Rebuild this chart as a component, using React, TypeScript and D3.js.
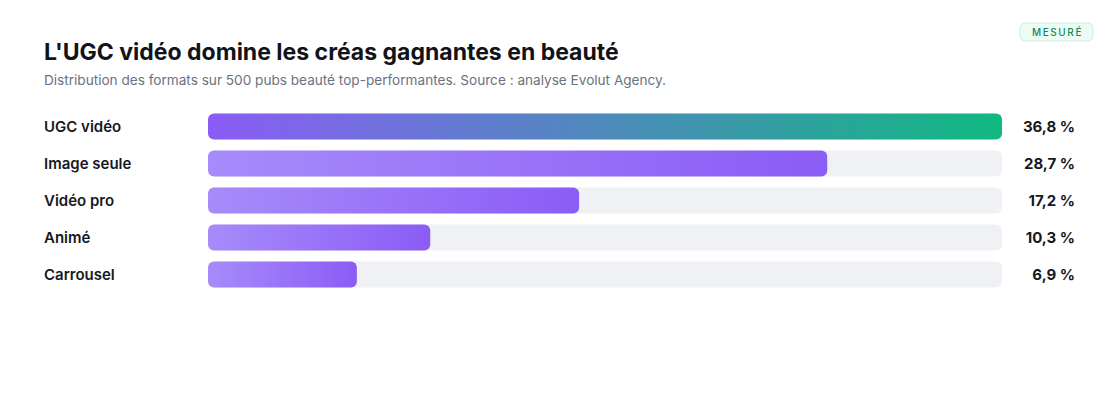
import React, { useEffect, useRef } from "react";
import * as d3 from "d3";

const categories = ["UGC vidéo", "Image seule", "Vidéo pro", "Animé", "Carrousel"];
const shares = [36.8, 28.7, 17.2, 10.3, 6.9];
const valueLabels = ["36,8 %", "28,7 %", "17,2 %", "10,3 %", "6,9 %"];

const title = "L'UGC vidéo domine les créas gagnantes en beauté";
const subtitle =
  "Distribution des formats sur 500 pubs beauté top-performantes. Source : analyse Evolut Agency.";

const App: React.FC = () => {
  const svgRef = useRef<SVGSVGElement | null>(null);

  useEffect(() => {
    const width = 1120;
    const height = 420;
    const font = "Inter, 'Noto Sans', sans-serif";
    const barLeft = 208;
    const barRight = 1002;

    const svg = d3.select(svgRef.current);
    svg.selectAll("*").remove();

    // Gradients
    const defs = svg.append("defs");
    const top = defs
      .append("linearGradient")
      .attr("id", "grad-top")
      .attr("x1", "0%")
      .attr("x2", "100%")
      .attr("y1", "0%")
      .attr("y2", "0%");
    top.append("stop").attr("offset", "0%").attr("stop-color", "#8b5cf6");
    top.append("stop").attr("offset", "100%").attr("stop-color", "#10b981");

    const rest = defs
      .append("linearGradient")
      .attr("id", "grad-rest")
      .attr("x1", "0%")
      .attr("x2", "100%")
      .attr("y1", "0%")
      .attr("y2", "0%");
    rest.append("stop").attr("offset", "0%").attr("stop-color", "#a78bfa");
    rest.append("stop").attr("offset", "100%").attr("stop-color", "#8b5cf6");

    // Header
    svg
      .append("text")
      .attr("x", 44)
      .attr("y", 60)
      .attr("font-family", font)
      .attr("font-size", 23)
      .attr("font-weight", 700)
      .attr("fill", "#111318")
      .text(title);

    svg
      .append("text")
      .attr("x", 44)
      .attr("y", 85)
      .attr("font-family", font)
      .attr("font-size", 13.6)
      .attr("fill", "#6b7280")
      .text(subtitle);

    // Badge
    const badge = svg.append("g").attr("transform", "translate(1020,23)");
    badge
      .append("rect")
      .attr("width", 73)
      .attr("height", 18)
      .attr("rx", 5)
      .attr("fill", "#eefbf5")
      .attr("stroke", "#c9efdd");
    badge
      .append("text")
      .attr("x", 37.5)
      .attr("y", 13)
      .attr("text-anchor", "middle")
      .attr("font-family", font)
      .attr("font-size", 10)
      .attr("font-weight", 500)
      .attr("letter-spacing", "1.6")
      .attr("fill", "#15875c")
      .text("MESURÉ");

    // Scales
    const yScale = d3
      .scaleBand()
      .domain(categories)
      .range([108, 293])
      .paddingInner(0.297)
      .paddingOuter(0.15);

    const xScale = d3
      .scaleLinear()
      .domain([0, d3.max(shares)!])
      .range([barLeft, barRight]);

    const rows = svg
      .selectAll("g.row")
      .data(categories)
      .enter()
      .append("g")
      .attr("class", "row");

    rows
      .append("rect")
      .attr("x", barLeft)
      .attr("y", (d) => yScale(d)!)
      .attr("width", barRight - barLeft)
      .attr("height", yScale.bandwidth())
      .attr("rx", 6)
      .attr("fill", "#f0f1f5");

    rows
      .append("rect")
      .attr("x", barLeft)
      .attr("y", (d) => yScale(d)!)
      .attr("width", (_, i) => xScale(shares[i]) - barLeft)
      .attr("height", yScale.bandwidth())
      .attr("rx", 6)
      .attr("fill", (_, i) => (i === 0 ? "url(#grad-top)" : "url(#grad-rest)"));

    rows
      .append("text")
      .attr("x", 44)
      .attr("y", (d) => yScale(d)! + yScale.bandwidth() / 2)
      .attr("dy", "0.36em")
      .attr("font-family", font)
      .attr("font-size", 15)
      .attr("font-weight", 600)
      .attr("fill", "#16181d")
      .text((d) => d);

    rows
      .append("text")
      .attr("x", 1075)
      .attr("y", (d) => yScale(d)! + yScale.bandwidth() / 2)
      .attr("dy", "0.36em")
      .attr("text-anchor", "end")
      .attr("font-family", font)
      .attr("font-size", 15)
      .attr("font-weight", 700)
      .attr("fill", "#16181d")
      .text((_, i) => valueLabels[i]);

    svg.attr("width", width).attr("height", height);
  }, []);

  return (
    <div style={{ position: "absolute", left: 0, top: 0, width: 1120, height: 420, background: "#fff" }}>
      <svg ref={svgRef} width={1120} height={420} style={{ display: "block" }}></svg>
    </div>
  );
};

export default App;
